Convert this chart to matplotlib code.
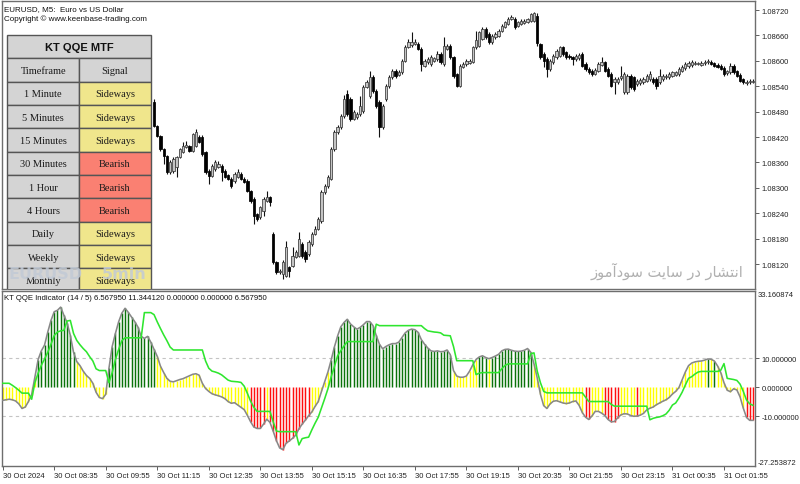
import matplotlib
matplotlib.use("Agg")
import matplotlib.pyplot as plt
from matplotlib.patches import Rectangle
import numpy as np

# ------------------------------------------------------------------ data
# KT QQE smoothed RSI (gray line / histogram), one value per M5 bar
RSI = [
    -4.6, -4.4, -4.2, -4.4, -4.8, -5.8, -7.4, -6.9, -5.0, -2.6,
    3.5, 9.5, 12.5, 14.5, 19.0, 23.0, 26.0, 26.5, 27.6, 24.8,
    22.2, 17.8, 12.0, 8.8, 7.4, 5.5, 4.0, 3.0, 1.3, -1.8,
    -3.6, -4.0, -2.5, 6.5, 14.0, 18.5, 22.5, 25.5, 27.2, 25.8,
    24.2, 22.6, 20.7, 17.5, 16.8, 17.5, 15.5, 13.0, 10.6, 7.2,
    5.0, 3.0, 2.0, 1.8, 2.2, 2.6, 2.9, 3.4, 3.9, 4.4,
    4.6, 4.1, 1.3, -0.5, -1.5, -2.3, -2.7, -3.0, -3.4, -4.0,
    -5.0, -5.6, -5.4, -6.2, -7.0, -7.8, -9.8, -12.0, -13.8, -14.3,
    -14.3, -12.8, -11.1, -12.2, -15.2, -18.5, -21.0, -21.6, -19.4, -18.6,
    -17.7, -16.6, -14.4, -12.8, -11.4, -9.9, -8.6, -6.7, -5.0, -1.5,
    1.8, 5.2, 9.3, 13.8, 17.6, 20.8, 22.3, 23.4, 21.8, 20.8,
    20.0, 20.6, 21.5, 22.6, 22.6, 21.2, 17.8, 14.8, 13.2, 14.0,
    14.6, 15.0, 15.0, 15.5, 17.1, 18.7, 19.6, 20.0, 19.8, 18.9,
    16.4, 14.8, 13.5, 12.5, 12.3, 12.5, 12.2, 12.3, 12.8, 11.2,
    5.7, 3.8, 3.4, 3.4, 3.8, 5.5, 7.7, 9.5, 10.4, 10.8,
    10.2, 9.8, 10.2, 10.7, 11.3, 12.5, 13.0, 13.1, 12.7, 12.4,
    12.3, 12.4, 12.7, 13.3, 12.0, 8.0, 3.2, -2.5, -6.4, -7.4,
    -5.8, -4.9, -4.7, -5.1, -5.5, -5.7, -5.5, -5.0, -4.8, -6.3,
    -8.8, -10.4, -11.2, -10.0, -8.4, -8.4, -9.0, -9.8, -11.2, -12.0,
    -11.9, -10.6, -9.6, -9.2, -9.3, -9.8, -10.1, -10.0, -9.7, -9.1,
    -7.9, -7.3, -6.9, -6.1, -5.5, -4.9, -4.4, -3.6, -2.4, -1.5,
    -0.2, 2.5, 5.2, 7.4, 8.3, 8.7, 8.9, 9.0, 9.3, 9.7,
    9.6, 9.0, 7.3, 5.0, 1.5, -1.1, -1.6, -0.6, -1.0, -3.4,
    -7.3, -10.5, -11.5, -11.5,
]

# QQE trailing line (lime)
TRAIL = [
    1.3, 1.3, 1.3, 0.6, -0.2, -1.1, -2.1, -2.1, -2.1, -4.2,
    1.5, 4.8, 7.5, 9.7, 12.0, 14.8, 17.8, 19.0, 19.4, 19.6,
    22.8, 23.0, 18.5, 16.1, 14.6, 13.3, 12.2, 10.5, 9.0, 6.3,
    5.7, 5.7, 5.7, 1.5, 5.0, 9.5, 13.0, 16.0, 17.0, 17.0,
    17.0, 17.0, 17.0, 17.0, 25.7, 25.7, 25.7, 25.0, 22.5, 20.2,
    18.0, 16.0, 13.8, 12.8, 12.8, 12.8, 12.8, 12.8, 12.8, 12.8,
    12.8, 12.8, 12.8, 9.0, 6.5, 5.5, 5.2, 4.8, 4.2, 3.3,
    2.4, 2.0, 1.9, 1.8, 1.6, 0.3, -2.2, -4.9, -7.0, -8.4,
    -8.4, -8.4, -8.4, -8.4, -12.0, -15.2, -15.4, -15.4, -15.4, -15.4,
    -15.4, -15.4, -20.0, -17.8, -17.5, -17.3, -14.8, -12.5, -10.4, -7.2,
    -4.0, -0.6, 3.5, 7.0, 10.8, 12.5, 14.2, 15.7, 15.7, 15.7,
    15.7, 15.7, 15.7, 15.7, 15.7, 15.7, 21.7, 21.2, 21.2, 21.2,
    21.2, 21.2, 21.2, 21.2, 21.2, 21.2, 21.2, 21.2, 21.2, 21.2,
    21.2, 20.2, 19.4, 19.2, 19.0, 18.9, 18.7, 17.9, 17.8, 17.7,
    14.0, 9.1, 9.1, 9.1, 9.1, 9.1, 9.1, 4.3, 4.8, 5.0,
    5.0, 5.0, 5.0, 5.0, 5.0, 6.3, 7.5, 8.0, 8.0, 8.0,
    8.0, 8.0, 8.0, 8.0, 11.5, 11.8, 5.5, 1.5, -1.5, -2.0,
    -2.0, -2.0, -2.0, -2.0, -2.0, -2.0, -2.0, -2.0, -2.0, -2.0,
    -2.0, -3.5, -5.0, -5.0, -5.0, -5.0, -5.0, -5.0, -5.0, -6.0,
    -6.6, -6.6, -6.6, -6.6, -6.6, -6.6, -6.6, -6.6, -6.6, -6.6,
    -6.6, -11.3, -10.8, -10.5, -10.3, -9.9, -9.3, -8.0, -6.2, -5.5,
    -3.8, -1.8, 0.7, 3.0, 3.6, 4.5, 5.2, 5.4, 5.4, 5.4,
    5.4, 5.4, 5.4, 5.8, 8.1, 3.0, 2.8, 2.6, 2.3, 1.0,
    -1.5, -4.5, -5.8, -6.3,
]

# histogram colour state per bar, run-length: G = bullish, Y = neutral, R = bearish
SIGNAL_RUNS = [
    ("Y", 11), ("G", 12), ("Y", 10), ("G", 15), ("Y", 29), ("R", 5), ("Y", 1),
    ("R", 13), ("Y", 6), ("G", 38), ("Y", 8), ("G", 3), ("Y", 1), ("G", 13),
    ("Y", 16), ("R", 2), ("Y", 4), ("R", 5), ("Y", 5), ("R", 1), ("Y", 21),
    ("G", 1), ("Y", 1), ("G", 1), ("Y", 9), ("R", 3),
]

# EURUSD M5 candles (last bars of the chart), in points above 1.08000
OPEN = [
    503, 446, 422, 392, 375, 337, 340, 349, 373, 385,
    396, 399, 387, 399, 420, 420, 385, 340, 328, 344,
    349, 352, 340, 330, 321, 316, 326, 333, 321, 316,
    292, 274, 238, 231, 245, 269, 278, 191, 125, 101,
    96, 92, 113, 115, 137, 139, 167, 149, 144, 167,
    191, 203, 222, 290, 304, 321, 392, 432, 444, 470,
    522, 510, 463, 467, 474, 481, 538, 517, 562, 529,
    503, 444, 510, 540, 562, 576, 567, 574, 600, 633,
    637, 640, 640, 628, 588, 597, 592, 600, 604, 616,
    592,
    628, 636, 608, 569, 541, 585, 592, 595, 597, 632,
    636, 652, 675, 663, 644, 656, 659, 671, 680, 687,
    699, 699, 683, 687, 690, 692, 695, 695, 706, 640,
    616, 604, 581, 597, 608, 612, 632, 620, 612, 608,
    604, 606, 616, 592, 581, 576, 569, 577, 590, 596,
    581, 569, 549, 549, 559, 527, 527, 565, 561, 545,
    547, 549, 553, 557, 557, 557, 549, 557, 561, 561,
    565, 567, 569, 577, 583, 587, 589, 593, 592, 590,
    594, 596, 598, 594, 590, 588, 584, 571, 573, 588,
    575, 567, 556, 548, 549, 550,
]
HIGH = [
    510, 448, 424, 395, 378, 365, 372, 376, 395, 408,
    411, 402, 430, 439, 424, 424, 387, 344, 356, 365,
    363, 356, 344, 333, 325, 337, 344, 337, 325, 321,
    295, 278, 241, 258, 278, 292, 281, 196, 127, 108,
    130, 174, 115, 160, 153, 196, 172, 153, 176, 196,
    210, 231, 295, 309, 330, 396, 437, 448, 474, 520,
    530, 515, 483, 479, 517, 543, 555, 576, 566, 533,
    507, 498, 545, 566, 581, 581, 578, 604, 637, 652,
    668, 652, 644, 632, 604, 609, 613, 609, 623, 620,
    656,
    640, 640, 612, 572, 592, 597, 604, 604, 635, 671,
    671, 679, 679, 667, 663, 667, 675, 687, 694, 703,
    709, 703, 694, 699, 699, 701, 714, 716, 712, 643,
    620, 608, 604, 616, 628, 636, 636, 624, 616, 612,
    616, 618, 620, 596, 585, 580, 583, 596, 608, 600,
    585, 573, 561, 561, 588, 573, 569, 569, 565, 557,
    559, 561, 569, 577, 561, 561, 581, 569, 569, 573,
    577, 577, 585, 589, 597, 599, 601, 599, 598, 599,
    602, 604, 602, 597, 594, 592, 588, 579, 594, 592,
    579, 571, 560, 555, 556, 557,
]
LOW = [
    444, 420, 388, 356, 333, 333, 336, 326, 370, 383,
    394, 385, 385, 396, 406, 375, 333, 309, 325, 340,
    347, 316, 323, 318, 300, 312, 323, 318, 311, 290,
    265, 215, 222, 226, 233, 266, 257, 120, 96, 96,
    85, 89, 89, 113, 134, 136, 134, 125, 139, 163,
    188, 200, 218, 286, 300, 318, 387, 427, 439, 465,
    470, 458, 460, 463, 470, 476, 535, 512, 524, 488,
    420, 439, 505, 536, 557, 560, 564, 569, 597, 630,
    633, 637, 625, 576, 585, 592, 588, 597, 600, 592,
    588,
    625, 605, 560, 537, 537, 582, 588, 592, 594, 628,
    633, 648, 652, 640, 640, 652, 656, 668, 678, 684,
    696, 676, 680, 684, 687, 690, 692, 692, 636, 604,
    585, 561, 577, 593, 604, 609, 612, 605, 604, 589,
    600, 602, 585, 577, 569, 565, 566, 573, 587, 573,
    561, 537, 522, 545, 555, 522, 522, 533, 529, 541,
    543, 545, 549, 553, 545, 533, 545, 553, 557, 557,
    561, 563, 565, 573, 579, 583, 585, 589, 589, 587,
    591, 593, 590, 585, 582, 578, 565, 567, 570, 569,
    561, 549, 545, 544, 546, 547,
]
CLOSE = [
    446, 422, 392, 375, 337, 361, 368, 373, 392, 399,
    401, 387, 427, 432, 408, 380, 337, 328, 352, 361,
    356, 337, 326, 321, 304, 333, 337, 321, 314, 292,
    269, 233, 226, 255, 274, 278, 267, 125, 101, 104,
    125, 160, 104, 139, 149, 179, 139, 132, 172, 191,
    203, 226, 290, 304, 326, 392, 432, 444, 470, 510,
    474, 463, 479, 474, 493, 538, 550, 562, 529, 493,
    444, 493, 540, 562, 576, 564, 574, 600, 633, 644,
    644, 644, 628, 592, 600, 604, 609, 606, 616, 597,
    635,
    636, 608, 565, 541, 588, 593, 600, 600, 632, 648,
    667, 675, 656, 644, 659, 663, 671, 683, 691, 699,
    703, 679, 691, 695, 695, 698, 711, 712, 641, 608,
    600, 581, 600, 612, 624, 632, 616, 608, 608, 604,
    612, 614, 588, 581, 573, 569, 579, 592, 596, 577,
    565, 541, 557, 557, 563, 569, 565, 537, 533, 553,
    555, 557, 565, 569, 549, 541, 565, 565, 565, 569,
    573, 573, 581, 585, 593, 595, 597, 595, 594, 595,
    598, 600, 593, 588, 586, 581, 569, 575, 588, 573,
    565, 553, 549, 551, 552, 553,
]
PRICE_BASE = 1.08000
POINT = 0.00001

PRICE_TICKS = [1.08120, 1.08180, 1.08240, 1.08300, 1.08360, 1.08420,
               1.08480, 1.08540, 1.08600, 1.08660, 1.08720]
PRICE_RANGE = (1.0806100, 1.0874126)

IND_TICKS = [10.0, 0.0, -10.0]
IND_TOP, IND_BOTTOM = 33.160874, -27.253872

TIME_TICK_BARS = [0, 16, 32, 48, 64, 80, 96, 112, 128, 144, 160, 176, 192, 208, 224]
TIME_TICK_LABELS = ["30 Oct 2024", "30 Oct 08:35", "30 Oct 09:55", "30 Oct 11:15",
                    "30 Oct 12:35", "30 Oct 13:55", "30 Oct 15:15", "30 Oct 16:35",
                    "30 Oct 17:55", "30 Oct 19:15", "30 Oct 20:35", "30 Oct 21:55",
                    "30 Oct 23:15", "31 Oct 00:35", "31 Oct 01:55"]

TABLE_TITLE = "KT QQE MTF"
TABLE_HEAD = ["Timeframe", "Signal"]
TIMEFRAMES = ["1 Minute", "5 Minutes", "15 Minutes", "30 Minutes", "1 Hour",
              "4 Hours", "Daily", "Weekly", "Monthly"]
SIGNALS = ["Sideways", "Sideways", "Sideways", "Bearish", "Bearish", "Bearish",
           "Sideways", "Sideways", "Sideways"]

TITLE_1 = "EURUSD, M5:  Euro vs US Dollar"
TITLE_2 = "Copyright \u00a9 www.keenbase-trading.com"
IND_TITLE = "KT QQE Indicator (14 / 5) 6.567950 11.344120 0.000000 0.000000 6.567950"
WATERMARK_PERSIAN = "\u0627\u0646\u062a\u0634\u0627\u0631 \u062f\u0631 \u0633\u0627\u06cc\u062a \u0633\u0648\u062f\u0622\u0645\u0648\u0632"
# same Persian sentence, pre-shaped (presentation forms) in visual order for matplotlib
WATERMARK_PERSIAN_VISUAL = ("\ufeaf\ufeee\ufee3\ufe81\ufea9\ufeee\ufeb3 "
                            "\ufe96\ufbfe\ufe8e\ufeb3 \ufead\ufea9 "
                            "\ufead\ufe8e\ufeb8\ufe98\ufee7\ufe8d")
WATERMARK_SYMBOL = "EURUSD"
WATERMARK_PERIOD = "5min"

# ------------------------------------------------------------------ style
plt.rcParams['font.family'] = ['Liberation Sans', 'DejaVu Sans']
W, H = 800, 485
BAR_PX, FIRST_PX = 3.22, 2.7
L_PX, R_PX = 2, 755
MAIN_TOP, MAIN_BOT = 2, 290
IND_TOP_PX, IND_BOT_PX = 292, 467
FRAME = '#6e6e6e'
LAB = 5.5

fig = plt.figure(figsize=(W / 100, H / 100), dpi=100)
fig.patch.set_facecolor('white')


def frac(x0, y0, x1, y1):
    return [x0 / W, 1 - y1 / H, (x1 - x0) / W, (y1 - y0) / H]


N = len(RSI)
bars = np.arange(N)
xlim = ((L_PX - FIRST_PX) / BAR_PX, (R_PX - FIRST_PX) / BAR_PX)

# ------------------------------------------------------------------ main price pane
ax = fig.add_axes(frac(L_PX, MAIN_TOP, R_PX, MAIN_BOT))
ci = np.arange(N - len(CLOSE), N)
o = PRICE_BASE + np.array(OPEN) * POINT
h = PRICE_BASE + np.array(HIGH) * POINT
l = PRICE_BASE + np.array(LOW) * POINT
c = PRICE_BASE + np.array(CLOSE) * POINT
bull = c >= o
ax.vlines(ci, l, h, color='#111111', lw=0.8, zorder=2)
ax.bar(ci, np.maximum(np.abs(c - o), 0.4 * POINT), bottom=np.minimum(o, c), width=0.72,
       color=np.where(bull, '#c4c4c4', '#000000'),
       edgecolor=np.where(bull, '#3a3a3a', '#000000'), linewidth=0.55, zorder=3)
ax.set_xlim(xlim)
ax.set_ylim(PRICE_RANGE)
ax.yaxis.tick_right()
ax.set_yticks(PRICE_TICKS)
ax.set_yticklabels([f"{v:.5f}" for v in PRICE_TICKS])
ax.set_xticks([])
ax.tick_params(axis='y', length=3, width=0.6, color='#444444', labelsize=LAB, pad=1.5,
               labelcolor='#222222')
for s in ax.spines.values():
    s.set_color(FRAME)
    s.set_linewidth(1.0)

# ------------------------------------------------------------------ indicator pane
axi = fig.add_axes(frac(L_PX, IND_TOP_PX, R_PX, IND_BOT_PX))
state = "".join(k * n for k, n in SIGNAL_RUNS)
cmap = {"G": "#0b730b", "Y": "#ffff00", "R": "#ff1010"}
axi.vlines(bars, 0, RSI, colors=[cmap[s] for s in state], lw=1.05, zorder=2)
for lv in (10, -10):
    axi.axhline(lv, color='#c4c4c4', lw=0.8, ls=(0, (3, 3)), zorder=1)
axi.plot(bars, RSI, color='#888888', lw=1.15, zorder=3)
axi.plot(bars, TRAIL, color='#2ee62e', lw=1.15, zorder=4)
axi.set_xlim(xlim)
axi.set_ylim(IND_BOTTOM, IND_TOP)
axi.yaxis.tick_right()
axi.set_yticks(IND_TICKS)
axi.set_yticklabels([f"{v:.6f}" for v in IND_TICKS])
axi.tick_params(axis='y', length=3, width=0.6, color='#444444', labelsize=LAB, pad=1.5,
                labelcolor='#222222')
axi.text(1.004, 1.0, f"{IND_TOP:.6f}", transform=axi.transAxes, ha='left', va='top',
         fontsize=LAB, color='#222222')
axi.text(1.004, 0.0, f"{IND_BOTTOM:.6f}", transform=axi.transAxes, ha='left', va='bottom',
         fontsize=LAB, color='#222222')
axi.set_xticks(TIME_TICK_BARS)
axi.set_xticklabels(TIME_TICK_LABELS)
for t in axi.get_xticklabels():
    t.set_ha('left')
axi.tick_params(axis='x', length=3, width=0.6, color='#444444', labelsize=LAB, pad=1.5,
                labelcolor='#222222')
for s in axi.spines.values():
    s.set_color(FRAME)
    s.set_linewidth(1.0)

# ------------------------------------------------------------------ texts
fig.text(4 / W, 1 - 10 / H, TITLE_1, fontsize=5.8, ha='left', va='center', color='#111111')
fig.text(4 / W, 1 - 19.5 / H, TITLE_2, fontsize=5.8, ha='left', va='center', color='#111111')
fig.text(4 / W, 1 - 299 / H, IND_TITLE, fontsize=5.6, ha='left', va='center', color='#111111')

# ------------------------------------------------------------------ overlay: table + watermarks
ov = fig.add_axes(frac(L_PX, MAIN_TOP, R_PX, MAIN_BOT), zorder=5)
ov.set_xlim(L_PX, R_PX)
ov.set_ylim(MAIN_BOT, MAIN_TOP)
ov.axis('off')
ov.patch.set_alpha(0)

TX0, TX1, TXM = 7.3, 150.7, 79.3
TY0, RH = 36.0, 23.33
edge = '#555555'
gray = '#d4d4d4'
sig_col = {"Sideways": "#f0e68c", "Bearish": "#fa8072"}

ov.add_patch(Rectangle((TX0, TY0), TX1 - TX0, RH, fc=gray, ec=edge, lw=1.0))
ov.text((TX0 + TX1) / 2, TY0 + RH / 2, TABLE_TITLE, ha='center', va='center',
        fontsize=8, fontweight='bold', color='#111111')
rows = [(TABLE_HEAD[0], TABLE_HEAD[1], gray)] + \
       [(tf, sg, sig_col[sg]) for tf, sg in zip(TIMEFRAMES, SIGNALS)]
for k, (left, right, rc) in enumerate(rows):
    y = TY0 + RH * (k + 1)
    ov.add_patch(Rectangle((TX0, y), TXM - TX0, RH, fc=gray, ec=edge, lw=1.0))
    ov.add_patch(Rectangle((TXM, y), TX1 - TXM, RH, fc=rc, ec=edge, lw=1.0))
    ov.text((TX0 + TXM) / 2, y + RH / 2 + 0.5, left, ha='center', va='center',
            fontsize=7.5, family='Liberation Serif', color='#1a1a1a', clip_on=True)
    ov.text((TXM + TX1) / 2, y + RH / 2 + 0.5, right, ha='center', va='center',
            fontsize=7.5, family='Liberation Serif', color='#1a1a1a', clip_on=True)

ov.text(8, 275, WATERMARK_SYMBOL, ha='left', va='center', fontsize=11.5, fontweight='bold',
        color='#c2cad6', alpha=0.85, family='DejaVu Sans', clip_on=True)
ov.text(147, 275, WATERMARK_PERIOD, ha='right', va='center', fontsize=11.5, fontweight='bold',
        color='#c2cad6', alpha=0.85, family='DejaVu Sans', clip_on=True)
ov.text(743, 271, WATERMARK_PERSIAN_VISUAL, ha='right', va='center', fontsize=10.5,
        color='#b0b0b0', family='DejaVu Sans')

fig.savefig("out.png", dpi=100, facecolor='white')
